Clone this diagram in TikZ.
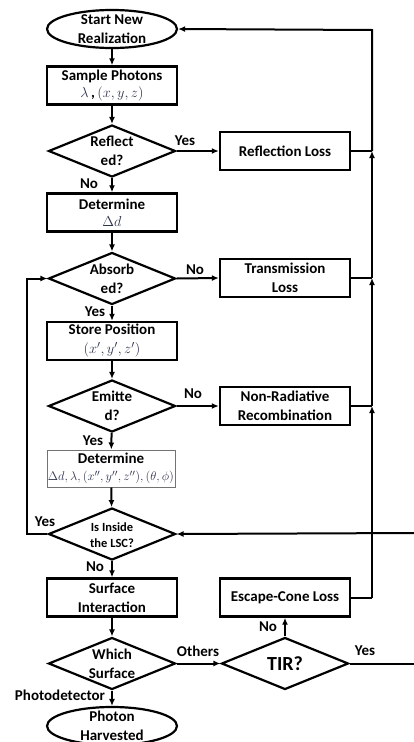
\documentclass[tikz,border=0pt]{standalone}
\usepackage[no-math]{fontspec}
\setmainfont{Carlito}
\usepackage{graphicx}
\usetikzlibrary{shapes.geometric,arrows.meta}
\definecolor{mathc}{rgb}{0.18,0.2,0.3}
\definecolor{thinb}{rgb}{0.45,0.45,0.45}
\newcommand{\fb}{\bfseries\fontsize{15}{19}\selectfont}
\newcommand{\mth}[1]{{\color{mathc}\fontsize{15}{19}\selectfont$#1$}}
\tikzset{
  box/.style={draw, line width=2.4pt, minimum width=130pt, minimum height=38pt, inner sep=0pt, align=center, font=\fb},
  thinbox/.style={draw=thinb, line width=1pt, minimum width=128pt, minimum height=37pt, inner sep=0pt, align=center, font=\fb},
  dia/.style={draw, diamond, line width=2.2pt, minimum width=127pt, minimum height=52pt, inner sep=0pt},
  ell/.style={draw, ellipse, line width=2.2pt, minimum width=130pt, minimum height=38pt, inner sep=0pt},
  intext/.style={font=\fb, align=center, inner sep=0pt},
  lab/.style={font=\fb, inner sep=0pt},
  conn/.style={line width=2pt},
  arr/.style={line width=2pt, -{Latex[length=7pt,width=6pt]}},
}
\begin{document}
\begin{tikzpicture}[x=1pt,y=-1pt]
\useasboundingbox (0,0) rectangle (414,742);
\clip (0,0) rectangle (414,742);
% nodes
\node[ell] (start) at (112,29) {};
\node[intext] (startt) at (112,29) {Start New\\Realization};
\node[box] (sample) at (112,85.5) {Sample Photons\\[-2pt]\mth{\lambda}\,\textbf{,}\,\mth{(x,y,z)}};
\node[dia] (refl) at (112,151) {};
\node[intext] (reflt) at (112,151) {Reflect\\ed?};
\node[box] (rloss) at (285,151) {Reflection Loss};
\node[box] (det1) at (112,212.5) {Determine\\[-2pt]\mth{\Delta d}};
\node[dia] (abs) at (112,278.5) {};
\node[intext] (abst) at (112,278.5) {Absorb\\ed?};
\node[box] (tloss) at (285,278) {Transmission\\Loss};
\node[box] (store) at (112,341) {Store Position\\\mth{(x',y',z')}};
\node[dia] (emit) at (112,406) {};
\node[intext] (emitt) at (112,406) {Emitte\\d?};
\node[box] (nrr) at (285,406) {Non-Radiative\\Recombination};
\node[thinbox] (det2) at (111,468.5) {Determine\\[-2pt]\resizebox{126pt}{!}{\mth{\Delta d,\lambda,(x'',y'',z''),(\theta,\phi)}}};
\node[dia] (inside) at (112,534) {};
\node[intext, font=\bfseries\fontsize{12.5}{15.5}\selectfont] (insidet) at (112,535) {Is Inside\\the LSC?};
\node[box] (surf) at (112,597.5) {Surface\\Interaction};
\node[dia] (which) at (112,663.5) {};
\node[intext] (whicht) at (112,663.5) {Which\\Surface};
\node[dia] (tir) at (285,663.5) {};
\node[intext, font=\bfseries\fontsize{20}{24}\selectfont] (tirt) at (285,663.5) {TIR?};
\node[box] (ecl) at (285,597.5) {Escape-Cone Loss};
\node[ell] (harv) at (112,726) {};
\node[intext] (harvt) at (112,726) {Photon\\Harvested};
% coordinates
\coordinate (top) at (372,30);
\coordinate (j1) at (372,151);
\coordinate (j2) at (372,278);
\coordinate (j3) at (372,406);
\coordinate (j4) at (372,597.5);
\coordinate (lft) at (27,534);
\coordinate (rin) at (414,533);
\coordinate (rout) at (414,663.5);
% main column
\draw[arr] (start) -- (sample);
\draw[arr] (sample) -- (refl);
\draw[arr] (refl) -- (det1);
\draw[arr] (det1) -- (abs);
\draw[arr] (abs) -- (store);
\draw[arr] (store) -- (emit);
\draw[arr] (emit) -- (det2);
\draw[arr] (det2) -- (inside);
\draw[arr] (inside) -- (surf);
\draw[arr] (surf) -- (which);
\draw[arr] (which) -- (harv);
% side branches
\draw[arr] (refl.east) -- (rloss.west);
\draw[arr] (abs.east) -- (tloss.west);
\draw[arr] (emit.east) -- (nrr.west);
\draw[arr] (which.east) -- (tir.west);
\draw[arr] (tir.north) -- (ecl.south);
\draw[conn] (tir.east) -- (rout);
\draw[arr] (rin) -- (inside.east);
\draw[arr] (inside.west) -- (lft) |- (abs.west);
% right bus
\draw[conn] (rloss.east) -- (j1);
\draw[conn] (tloss.east) -- (j2);
\draw[conn] (nrr.east) -- (j3);
\draw[conn] (ecl.east) -- (j4);
\draw[arr] (j4) -- (j3);
\draw[arr] (j3) -- (j2);
\draw[arr] (j2) -- (j1);
\draw[arr] (j1) -- (top) -- (start.east);
% labels
\node[lab] (l1) at (185,141) {Yes};
\node[lab] (l2) at (89,184) {No};
\node[lab] (l3) at (195,270) {No};
\node[lab] (l4) at (95,312) {Yes};
\node[lab] (l5) at (193,394) {No};
\node[lab] (l6) at (93,441) {Yes};
\node[lab] (l7) at (45,522) {Yes};
\node[lab] (l8) at (95,567) {No};
\node[lab] (l9) at (198,651) {Others};
\node[lab] (l10) at (268,627) {No};
\node[lab] (l11) at (365,651) {Yes};
\node[lab] (l12) at (60,695) {Photodetector};
\end{tikzpicture}
\end{document}
